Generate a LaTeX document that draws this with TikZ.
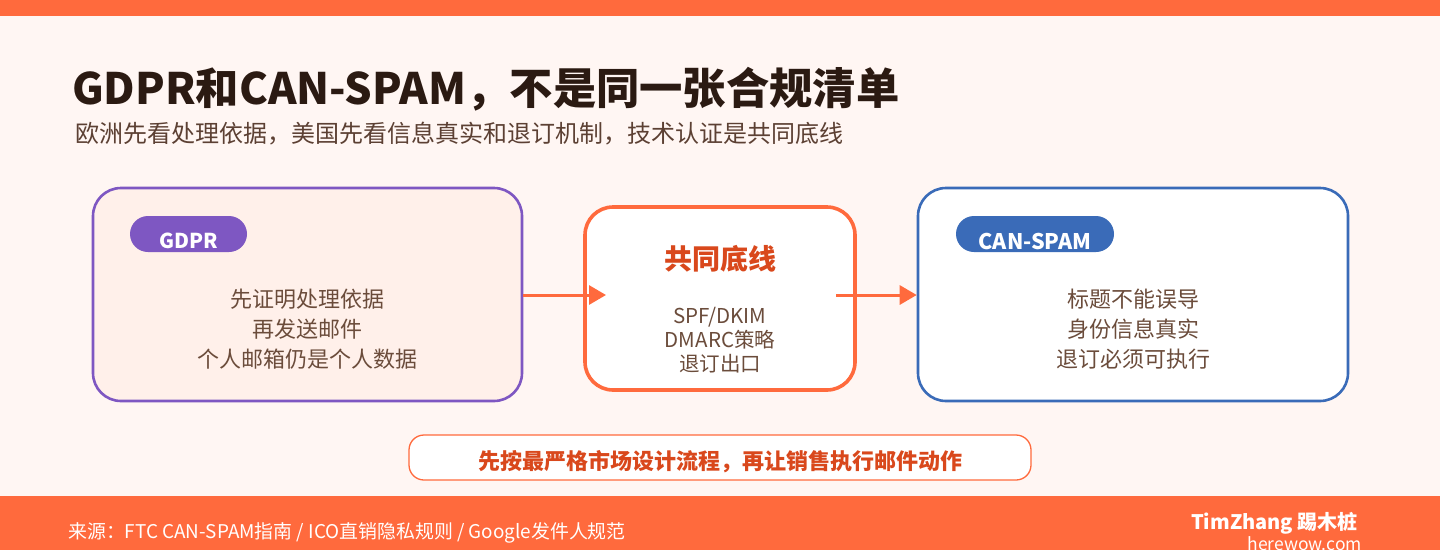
\documentclass[tikz,border=0pt]{standalone}
\usepackage{fontspec}
\setmainfont{Noto Sans CJK SC}
\usetikzlibrary{arrows.meta}
\definecolor{brand}{HTML}{FF6A3D}
\definecolor{bgc}{HTML}{FFF6F3}
\definecolor{gdprfill}{HTML}{FFF0EA}
\definecolor{purp}{HTML}{7E57C2}
\definecolor{bluec}{HTML}{3A6BB8}
\definecolor{redtxt}{HTML}{D9481C}
\definecolor{titlec}{HTML}{2B1A12}
\definecolor{subc}{HTML}{5C4033}
\definecolor{bodyc}{HTML}{6B4C3B}
\tikzset{
  card/.style={draw, rounded corners=28pt, line width=2.6pt, inner sep=0pt},
  pill/.style={rounded corners=18pt, inner sep=0pt, minimum height=36pt},
  tagtext/.style={text=white, font=\fontsize{20.5}{22}\selectfont\bfseries, inner sep=0pt},
  bodytext/.style={text=bodyc, align=center, font=\fontsize{22}{30}\selectfont, inner sep=0pt},
  flow/.style={draw=brand, line width=3pt, -{Triangle[length=17pt,width=19pt]}},
}
\begin{document}
\begin{tikzpicture}[x=1pt,y=-1pt]
\useasboundingbox (0,0) rectangle (1440,550);
\fill[bgc] (0,0) rectangle (1440,550);
\fill[brand] (0,0) rectangle (1440,16);
\fill[brand] (0,496) rectangle (1440,550);

% title
\node[anchor=base west, inner sep=0pt, text=titlec, font=\fontsize{43.3}{48}\selectfont\bfseries] (title) at (72,104) {GDPR和CAN-SPAM，不是同一张合规清单};
\node[anchor=base west, inner sep=0pt, text=subc, font=\fontsize{24}{28}\selectfont] (sub) at (75,142) {欧洲先看处理依据，美国先看信息真实和退订机制，技术认证是共同底线};

% GDPR card
\node[card, draw=purp, fill=gdprfill, minimum width=429pt, minimum height=213pt] (gdpr) at (307.5,294.5) {};
\node[pill, fill=purp, minimum width=117pt] (gdprtag) at (188.5,234) {};
\node[tagtext] (gdprlbl) at (188.5,241) {GDPR};
\node[bodytext] (gdprbody) at (307,329) {先证明处理依据\\再发送邮件\\个人邮箱仍是个人数据};

% center card
\node[card, draw=brand, fill=white, line width=3.6pt, minimum width=270pt, minimum height=183pt] (base) at (720,298.5) {};
\node[inner sep=0pt, text=redtxt, font=\fontsize{28}{30}\selectfont\bfseries] (basettl) at (720,259) {共同底线};
\node[inner sep=0pt, text=bodyc, align=center, font=\fontsize{20.5}{24}\selectfont] (basebody) at (720,340) {SPF/DKIM\\DMARC策略\\退订出口};

% CAN-SPAM card
\node[card, draw=bluec, fill=white, minimum width=430pt, minimum height=213pt] (can) at (1133,294.5) {};
\node[pill, fill=bluec, minimum width=158pt] (cantag) at (1035,234) {};
\node[tagtext, font=\fontsize{21.5}{22}\selectfont\bfseries] (canlbl) at (1035,241) {CAN-SPAM};
\node[bodytext] (canbody) at (1133,329) {标题不能误导\\身份信息真实\\退订必须可执行};

% arrows
\coordinate (a1end) at (606,295);
\coordinate (a2start) at (836,295);
\draw[flow] (gdpr.east |- a1end) -- (a1end);
\draw[flow] (a2start) -- (can.west |- a2start);

% note
\node[draw=brand, line width=1.3pt, fill=white, rounded corners=15pt, minimum width=622pt, minimum height=45pt, inner sep=0pt] (note) at (720,457.5) {};
\node[inner sep=0pt, text=redtxt, font=\fontsize{22}{26}\selectfont\bfseries] (notetxt) at (720,462) {先按最严格市场设计流程，再让销售执行邮件动作};

% footer
\node[anchor=base west, inner sep=0pt, text=white, font=\fontsize{18.9}{22}\selectfont] (src) at (68,538) {来源：FTC CAN-SPAM指南 / ICO直销隐私规则 / Google发件人规范};
\node[anchor=base east, inner sep=0pt, text=white, font=\fontsize{20}{22}\selectfont\bfseries] (brandname) at (1358,529) {TimZhang 踢木桩};
\node[anchor=base east, inner sep=0pt, text=white, font=\fontsize{17.5}{20}\selectfont] (site) at (1362,550) {herewow.com};
\end{tikzpicture}
\end{document}
